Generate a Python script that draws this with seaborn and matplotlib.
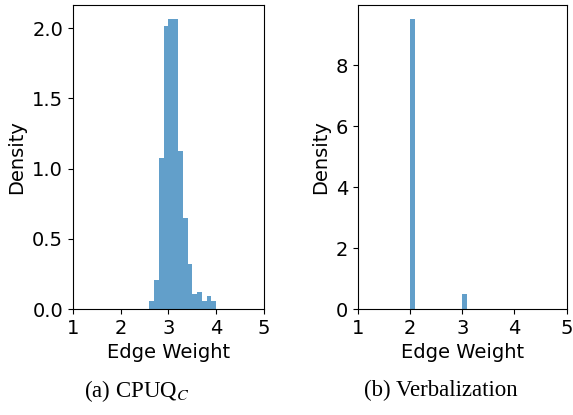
import matplotlib
matplotlib.use("Agg")
import matplotlib.pyplot as plt
import numpy as np
import seaborn as sns

# left panel: CPUQ_C, bins of width 0.1 from 2.6 to 4.0
cpuq_edges = [2.6, 2.7, 2.8, 2.9, 3.0, 3.1, 3.2, 3.3, 3.4, 3.5, 3.6, 3.7, 3.8, 3.9, 4.0]
cpuq_density = [0.055, 0.21, 1.08, 2.02, 2.07, 2.07, 1.13, 0.65, 0.32, 0.105, 0.125, 0.055, 0.09, 0.055]

# right panel: verbalization, weights only at 2 and 3
verb_values = [2.0, 3.0]
verb_share = [0.95, 0.05]
verb_edges = [2.0, 2.1, 2.9, 3.0, 3.1]

x_ticks = [1, 2, 3, 4, 5]

plt.rcParams["font.size"] = 14
plt.rcParams["mathtext.fontset"] = "stix"

fig = plt.figure(figsize=(5.73, 4.15), dpi=100)
ax1 = fig.add_axes([0.127, 0.2554, 0.3339, 0.7325])
ax2 = fig.add_axes([0.6243, 0.2554, 0.3647, 0.7325])

centers = [(a + b) / 2 for a, b in zip(cpuq_edges[:-1], cpuq_edges[1:])]
sns.histplot(x=centers, weights=cpuq_density, bins=cpuq_edges, stat="density",
             color="C0", alpha=0.7, linewidth=0, ax=ax1)
sns.histplot(x=[v + 0.05 for v in verb_values], weights=verb_share, bins=verb_edges,
             stat="density", color="C0", alpha=0.7, linewidth=0, ax=ax2)

for ax in (ax1, ax2):
    ax.set_xlim(1, 5)
    ax.set_xticks(x_ticks)
    ax.set_xlabel("Edge Weight")
    ax.set_ylabel("Density")
    ax.margins(y=0.05)
ax1.set_yticks([0.0, 0.5, 1.0, 1.5, 2.0])
ax2.set_yticks([0, 2, 4, 6, 8])

fig.text(0.239, 0.058, r"(a) CPUQ$_C$", ha="center", va="center",
         family="Liberation Serif", fontsize=16.5)
fig.text(0.77, 0.058, "(b) Verbalization", ha="center", va="center",
         family="Liberation Serif", fontsize=16.5)

fig.savefig("out.png", dpi=100)
